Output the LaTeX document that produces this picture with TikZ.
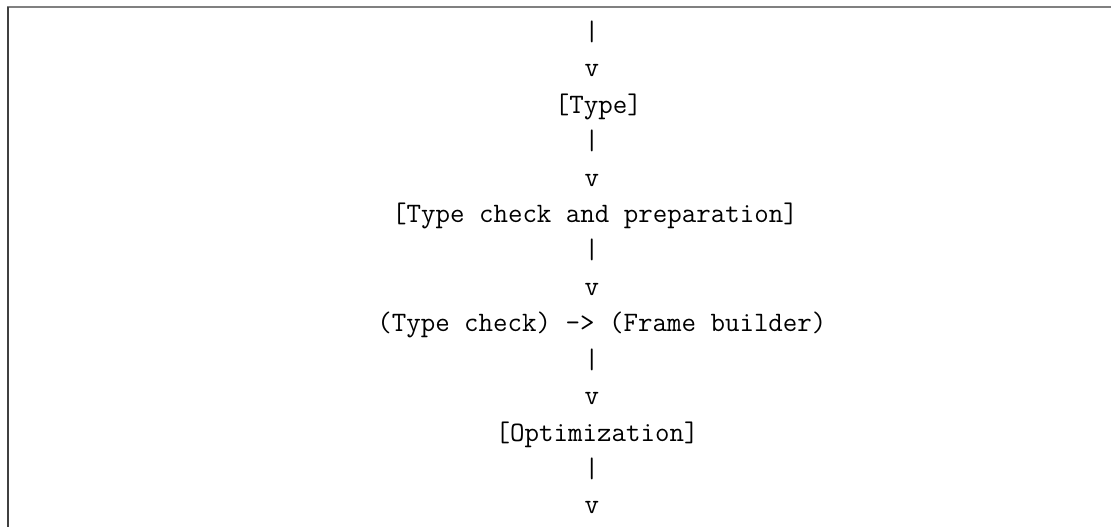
\documentclass[tikz,border=0pt]{standalone}
\usepackage{fontspec}
\begin{document}
\begin{tikzpicture}[x=0.75pt,y=-0.75pt,
  asciitext/.style={inner sep=0pt, outer sep=0pt, anchor=base west,
    font=\ttfamily\fontsize{21.1pt}{27.3pt}\selectfont},
  topframe/.style={draw=black!50, line width=1.5pt},
  leftframe/.style={draw=black!75, line width=1.5pt}]
\useasboundingbox (0,0) rectangle (1111,527);
\draw[topframe] (7,7.5) -- (1111,7.5);
\draw[leftframe] (7.5,7) -- (7.5,527);
\def\colw{14.8}
\def\xz{377.3}
\def\lh{36.4}
\node[asciitext] (l0)  at (\xz+14*\colw, 40.6+0*\lh) {|};
\node[asciitext] (l1)  at (\xz+14*\colw, 40.6+1*\lh) {v};
\node[asciitext] (l2)  at (\xz+12*\colw, 40.6+2*\lh) {[Type]};
\node[asciitext] (l3)  at (\xz+14*\colw, 40.6+3*\lh) {|};
\node[asciitext] (l4)  at (\xz+14*\colw, 40.6+4*\lh) {v};
\node[asciitext] (l5)  at (\xz+1*\colw, 40.6+5*\lh) {[Type check and preparation]};
\node[asciitext] (l6)  at (\xz+14*\colw, 40.6+6*\lh) {|};
\node[asciitext] (l7)  at (\xz+14*\colw, 40.6+7*\lh) {v};
\node[asciitext] (l8)  at (\xz+0*\colw, 40.6+8*\lh) {(Type check) -> (Frame builder)};
\node[asciitext] (l9)  at (\xz+14*\colw, 40.6+9*\lh) {|};
\node[asciitext] (l10) at (\xz+14*\colw, 40.6+10*\lh) {v};
\node[asciitext] (l11) at (\xz+8*\colw, 40.6+11*\lh) {[Optimization]};
\node[asciitext] (l12) at (\xz+14*\colw, 40.6+12*\lh) {|};
\node[asciitext] (l13) at (\xz+14*\colw, 40.6+13*\lh) {v};
\end{tikzpicture}
\end{document}
